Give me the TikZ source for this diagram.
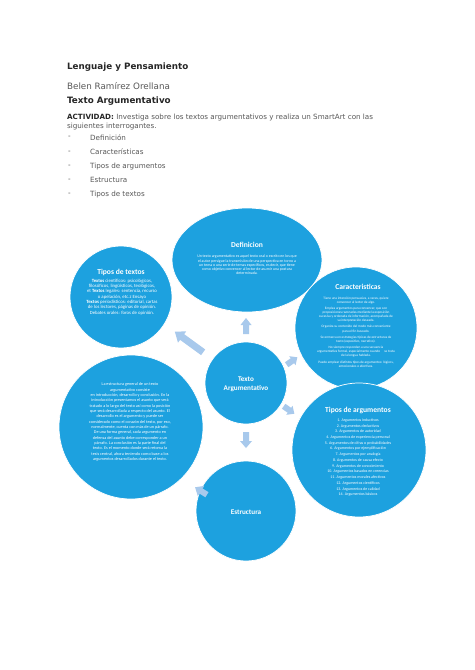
\documentclass[tikz,border=0pt]{standalone}
\usepackage{fontspec}
\setmainfont{DejaVu Sans}
\newfontfamily\carl{Carlito}
\usetikzlibrary{shapes.geometric}
\definecolor{bub}{RGB}{29,161,223}
\definecolor{arr}{RGB}{168,201,236}
\definecolor{hdr}{RGB}{38,38,38}
\definecolor{gtx}{RGB}{89,89,89}
% block arrow: #1 centre coordinate, #2 angle, #3 length, #4 head width, #5 shaft width, #6 head length
\newcommand\blockarr[6]{%
  \fill[arr, shift={(#1)}, rotate=#2]
    ({-#3/2},{-#5/2}) -- ({#3/2-#6},{-#5/2}) -- ({#3/2-#6},{-#4/2}) -- ({#3/2},0)
    -- ({#3/2-#6},{#4/2}) -- ({#3/2-#6},{#5/2}) -- ({-#3/2},{#5/2}) -- cycle;}
\begin{document}
\begin{tikzpicture}[x=1.2559pt,y=-1.2559pt,
  bubble/.style={circle, fill=bub, draw=white, line width=0.9pt, inner sep=0pt, minimum size={#1*2.5118pt}},
  ttl/.style={text=white, inner sep=0pt, font=\carl\bfseries\fontsize{9.5}{11}\selectfont},
  bdy/.style={text=white, inner sep=0pt, align=center},
  head/.style={anchor=west, inner sep=0pt, text=hdr, font=\bfseries\fontsize{11}{13}\selectfont},
  item/.style={anchor=west, inner sep=0pt, text=gtx, font=\fontsize{9}{11}\selectfont}
]
\useasboundingbox (0,0) rectangle (474,670);
\fill[white] (0,0) rectangle (474,670);

% header
\node[head] (h1) at (67,67) {Lenguaje y Pensamiento};
\node[anchor=west, inner sep=0pt, text=gtx, font=\fontsize{11}{13}\selectfont] (h2) at (67,86) {Belen Ramírez Orellana};
\node[head] (h3) at (67,101) {Texto Argumentativo};
\node[anchor=west, inner sep=0pt, text=gtx, align=left, font=\fontsize{9}{12.5}\selectfont] (h4) at (67,122)
  {{\color{hdr}\bfseries ACTIVIDAD:} Investiga sobre los textos argumentativos y realiza un SmartArt con las\\siguientes interrogantes.};
\foreach \t [count=\i] in {Definición, Características, Tipos de argumentos, Estructura, Tipos de textos}{
  \node[item] (d\i) at (68,{137.7+(\i-1)*14.2}) {-};
  \node[item] (l\i) at (90,{137.7+(\i-1)*14.2}) {\t};
}

% bubbles
\node[ellipse, fill=bub, draw=white, line width=0.9pt, inner sep=0pt, minimum width={150*1.2559pt}, minimum height={104*1.2559pt}] (def) at (247,260) {};
\node[bubble=61] (car) at (356,328) {};
\node[bubble=67] (targ) at (359,450) {};
\node[bubble=50] (est) at (246,511) {};
\node[bubble=72] (estd) at (131,427) {};
\node[bubble=51] (ttex) at (121,297) {};
\node[bubble=41] (ctr) at (246,383) {};

% texts in bubbles
\node[ttl] (defT) at (247,245) {Definicion};
\node[bdy, font=\carl\fontsize{4.9}{5.4}\selectfont] (defB) at (247,265)
 {Un texto argumentativo es aquel texto oral o escrito en los que\\
  el autor persigue la transmisión de una perspectiva en torno a\\
  un tema o una serie de temas específicos, es decir, que tiene\\
  como objetivo convencer al lector de asumir una postura\\
  determinada.};

\node[ttl] (ttexT) at (121,272) {Tipos de textos};
\node[bdy, font=\carl\fontsize{6}{6.7}\selectfont] (ttexB) at (122,297)
 {\textbf{Textos} científicos: psicológicos,\\
  filosóficos, lingüísticos, teológicos,\\
  et \textbf{Textos} legales: sentencia, recurso\\
  o apelación, etc.z Ensayo\\
  \textbf{Textos} periodísticos: editorial, cartas\\
  de los lectores, páginas de opinión.\\
  Debates orales: foros de opinión.};

\node[ttl] (carT) at (358,287) {Caracteristicas};
\node[bdy, font=\carl\fontsize{4.3}{5.1}\selectfont] (carB) at (356,332)
 {Tiene una intención persuasiva, a veces, quiere\\
  convencer al lector de algo.\\[2.8pt]
  Emplea argumentos para convencer, que son\\
  proposiciones razonadas mediante la exposición\\
  sucesiva y ordenada de información, acompañada de\\
  su interpretación deseada.\\[2.8pt]
  Organiza su contenido del modo más conveniente\\
  para el fin buscado.\\[2.8pt]
  Se enmarca en estrategias típicas de estructuras de\\
  texto (expositivo, narrativo).\\[2.8pt]
  No siempre responden a una secuencia\\
  argumentativa formal, especialmente cuando \quad se trata\\
  de la lengua hablada.\\[2.8pt]
  Puede emplear distintos tipos de argumentos: lógicos,\\
  emocionales o afectivos.};

\node[text=white, inner sep=0pt, font=\carl\bfseries\fontsize{9}{11}\selectfont, align=center] (ctrT) at (246,384) {Texto\\Argumentativo};

\node[ttl] (targT) at (358,410) {Tipos de argumentos};
\node[bdy, font=\carl\fontsize{5}{7.2}\selectfont] (targB) at (358,457.5)
 {1. Argumentos inductivos\\
  2. Argumentos deductivos\\
  3. Argumentos de autoridad\\
  4. Argumentos de experiencia personal\\
  5. Argumentos de cifras o probabilidades\\
  6. Argumentos por ejemplificación\\
  7. Argumentos por analogía\\
  8. Argumentos de causa efecto\\
  9. Argumentos de conocimiento\\
  10. Argumentos basados en creencias\\
  11. Argumentos morales afectivos\\
  12. Argumentos científicos\\
  13. Argumentos de calidad\\
  14. Argumentos básicos};

\node[bdy, font=\carl\fontsize{5.3}{6.7}\selectfont] (estdB) at (130,422)
 {La estructura general de un texto\\
  argumentativo consiste\\
  en introducción, desarrollo y conclusión. En la\\
  introducción presentamos el asunto que será\\
  tratado a lo largo del texto así como la posición\\
  que será desarrollada a respecto del asunto. El\\
  desarrollo es el argumento y puede ser\\
  considerado como el corazón del texto, por eso,\\
  normalmente, cuenta con más de un párrafo.\\
  De una forma general, cada argumento en\\
  defensa del asunto debe corresponder a un\\
  párrafo. La conclusión es la parte final del\\
  texto. Es el momento donde será retoma la\\
  tesis central, ahora teniendo como base a los\\
  argumentos desarrollados durante el texto.};

\node[ttl, font=\carl\bfseries\fontsize{9}{11}\selectfont] (estT) at (246,512) {Estructura};

% block arrows
\coordinate (a1) at (246,326);
\coordinate (a2) at (189,342);
\coordinate (a3) at (292,361);
\coordinate (a4) at (289,410);
\coordinate (a5) at (246,440);
\coordinate (a6) at (201,491);
\blockarr{a1}{90}{16}{11}{6}{7}
\blockarr{a2}{144}{35}{14}{7}{9}
\blockarr{a3}{35}{13}{11}{6}{6}
\blockarr{a4}{-35}{13}{11}{6}{6}
\blockarr{a5}{-90}{16}{12}{6}{7}
\blockarr{a6}{148}{14}{12}{6}{7}
\end{tikzpicture}
\end{document}
